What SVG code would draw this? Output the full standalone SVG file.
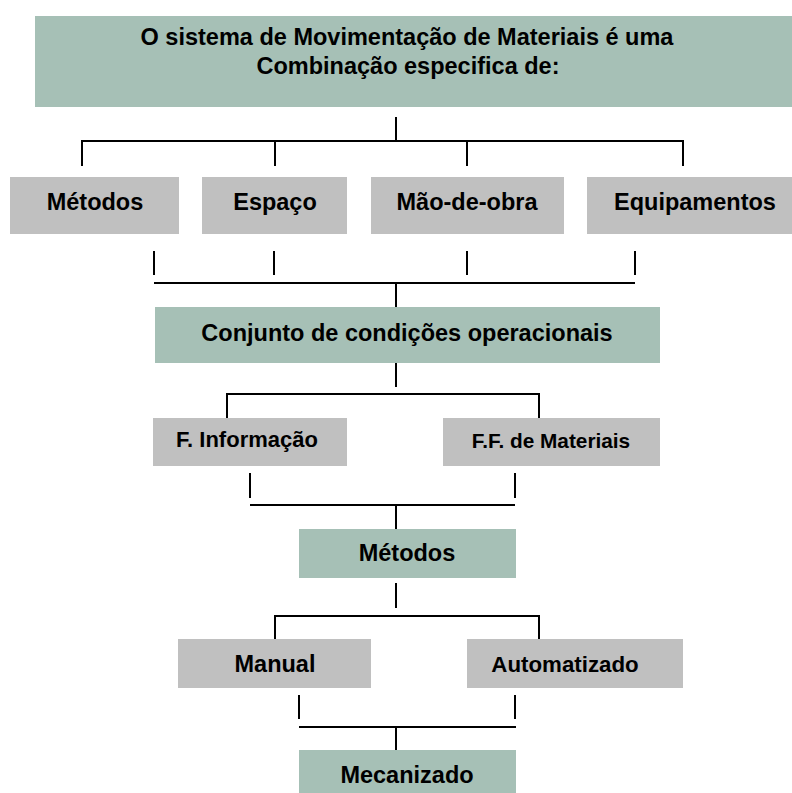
<svg xmlns="http://www.w3.org/2000/svg" width="792" height="793" viewBox="0 0 792 793">
<style>
.g{fill:#a6c0b6}
.s{fill:#c0c0c0}
text{font-family:"Liberation Sans",Arial,sans-serif;font-weight:bold;font-size:23.5px;fill:#000;text-anchor:middle}
.c{stroke:#000;stroke-width:2;fill:none}
</style>
<rect width="792" height="793" fill="#fff"/>
<g id="top">
<rect class="g" x="35" y="16" width="757" height="91"/>
<text x="407" y="45">O sistema de Movimentação de Materiais é uma</text>
<text x="408" y="74">Combinação especifica de:</text>
</g>
<g id="metodos1"><rect class="s" x="10" y="177" width="169" height="57"/><text x="95" y="210">Métodos</text></g>
<g id="espaco"><rect class="s" x="202" y="177" width="145" height="57"/><text x="275" y="210">Espaço</text></g>
<g id="maodeobra"><rect class="s" x="371" y="177" width="193" height="57"/><text x="467" y="210">Mão-de-obra</text></g>
<g id="equipamentos"><rect class="s" x="587" y="177" width="216" height="57"/><text x="695" y="210">Equipamentos</text></g>
<g id="conjunto"><rect class="g" x="155" y="307" width="505" height="56"/><text x="407" y="341">Conjunto de condições operacionais</text></g>
<g id="finformacao"><rect class="s" x="153" y="418" width="194" height="48"/><text x="247" y="447" style="font-size:22px">F. Informação</text></g>
<g id="ffmateriais"><rect class="s" x="443" y="418" width="217" height="48"/><text x="551" y="448" style="font-size:20.8px">F.F. de Materiais</text></g>
<g id="metodos2"><rect class="g" x="299" y="529" width="217" height="49"/><text x="407" y="561">Métodos</text></g>
<g id="manual"><rect class="s" x="178" y="639" width="193" height="49"/><text x="275" y="672">Manual</text></g>
<g id="automatizado"><rect class="s" x="467" y="639" width="216" height="49"/><text x="565" y="672" style="font-size:22.3px">Automatizado</text></g>
<g id="mecanizado"><rect class="g" x="299" y="750" width="217" height="43"/><text x="407" y="783">Mecanizado</text></g>
<g id="connectors" class="c">
<path d="M396 117V141M82 141H683M82 140V166M275 140V166M467 140V166M683 140V166"/>
<path d="M154 251V275M274 251V275M467 251V275M635 251V275M154 283H635M396 283V307"/>
<path d="M396 363V387M227 394H539M227 393V418M539 393V418"/>
<path d="M250 473V498M515 473V498M250 505H515M396 505V529"/>
<path d="M396 583V608M275 616H539M275 615V639M539 615V639"/>
<path d="M299 695V719M515 695V719M299 727H516M396 727V750"/>
</g>
</svg>
